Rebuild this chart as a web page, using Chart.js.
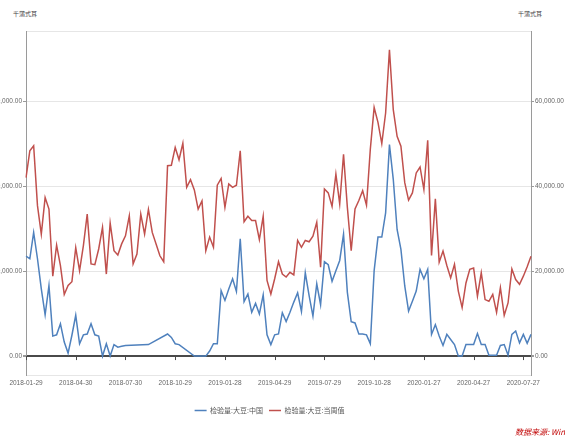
<!DOCTYPE html>
<html lang="zh">
<head>
<meta charset="UTF-8">
<title>检验量:大豆</title>
<script src="https://cdn.jsdelivr.net/npm/chart.js"></script>
<style>
    body {
        margin: 0;
        width: 565px;
        height: 439px;
        overflow: hidden;
        position: relative;
        background: #fff;
        font-family: "Noto Sans CJK SC", "Liberation Sans", sans-serif;
    }
    .unit {
        position: absolute;
        top: 9px;
        font-size: 6px;
        color: #444;
    }
    #box {
        position: absolute;
        left: -26px;
        top: 0;
        width: 591px;
        height: 439px;
    }
    .src {
        position: absolute;
        left: 515px;
        top: 426px;
        font-size: 8px;
        font-style: italic;
        color: #c00000;
        white-space: nowrap;
    }
</style>
</head>
<body>
<div class="unit" style="left:13px">千蒲式耳</div>
<div class="unit" style="left:518px">千蒲式耳</div>
<div id="box"><canvas id="c"></canvas></div>
<div class="src">数据来源: Wind</div>

<script>
// weekly, starting 2018-01-29
const startDate = '2018-01-29';
const weekCount = 133;
const tickLabels = ['2018-01-29', '2018-04-30', '2018-07-30', '2018-10-29', '2019-01-28', '2019-04-29',
                    '2019-07-29', '2019-10-28', '2020-01-27', '2020-04-27', '2020-07-27'];
const yTicks = [0, 20000, 40000, 60000];
const seriesNames = ['检验量:大豆:中国', '检验量:大豆:当周值'];

// 检验量:大豆:中国 (null = no data that week)
const chinaVals = [
    23500, 22900, 29100, 22900, 15800, 9700, 16600, 4700, 5000, 7600,
    3300, 700, 4900, 9600, 2900, 5000, 5200, 7600, 5000, 4700,
    0, 2900, 0, 2700, 2100, 2300, 2500, null, null, null,
    null, null, 2700, null, null, null, null, 5200, 4400, 2900,
    2700, null, null, null, 0, 0, 0, 0, 1200, 2900,
    2900, 15400, 13100, 15800, 18200, 15200, 27600, 12800, 14600, 10300,
    12400, 9900, 14400, 5000, 2700, 5000, 5200, 10200, 8100, 10300,
    12700, 14900, 10500, 19600, 14200, 9400, 17000, 12100, 22200, 21500,
    17600, 20100, 22500, 28700, 15000, 8100, 7800, 5200, 5200, 5000,
    2900, 20100, 28000, 28000, 33700, 49800, 41600, 29800, 25100, 16500,
    10600, 12900, 15300, 20400, 18200, 20400, 5100, 7400, 4700, 2500,
    5100, 3900, 2700, 0, 0, 2700, 2700, 2700, 5300, 2700,
    2700, 200, 200, 200, 2500, 2700, 200, 5100, 5900, 3100,
    5100, 3000, 5100
];

// 检验量:大豆:当周值
const totalVals = [
    42000, 48300, 49500, 35400, 28700, 37300, 34600, 18800, 26100, 21300,
    14500, 16600, 17500, 25500, 20100, 26000, 33400, 21700, 21500, 25200,
    30300, 19300, 31300, 24800, 23800, 26400, 28300, 33000, 21700, 24000,
    33400, 28700, 34500, 29100, 26400, 23600, 22200, 44800, 44900, 49100,
    46200, 50100, 39700, 41500, 39100, 34600, 36500, 24800, 28000, 25600,
    40200, 41800, 35000, 40500, 39700, 40200, 48300, 31600, 32900, 31900,
    31900, 27400, 32900, 17800, 14600, 18200, 22200, 19300, 18600, 19700,
    19100, 27200, 25600, 27200, 26900, 28200, 31500, 20900, 39300, 38400,
    35200, 42800, 35800, 47500, 35000, 24800, 34600, 36600, 38900, 35500,
    48700, 58500, 55000, 50000, 57200, 72100, 58000, 51700, 49400, 40800,
    36700, 38400, 43100, 44500, 39200, 50800, 23700, 37000, 22100, 24700,
    21300, 18400, 21600, 15300, 11400, 17200, 20400, 20700, 14100, 19600,
    13300, 12900, 14500, 10300, 16100, 9600, 12500, 20500, 18000, 16900,
    18800, 21000, 23500
];

// build the weekly date labels
const dates = [];
const d0 = new Date(startDate + 'T00:00:00Z');
for (let i = 0; i < weekCount; i++) {
    const d = new Date(d0.getTime() + i * 7 * 86400000);
    dates.push(d.toISOString().slice(0, 10));
}

const yMin = -4500, yMax = 76500;
const fmt = v => v.toLocaleString('en-US', { minimumFractionDigits: 2, maximumFractionDigits: 2 });
const axisFont = { family: '"Liberation Sans", Arial, sans-serif', size: 6.5 };

function yAxis(side, width) {
    return {
        type: 'linear',
        position: side,
        min: yMin,
        max: yMax,
        afterBuildTicks: s => { s.ticks = [yMin].concat(yTicks, [yMax]).map(v => ({ value: v })); },
        afterFit: s => { s.width = width; },
        border: { color: '#9a9a9a', width: 1 },
        grid: {
            drawOnChartArea: side === 'left',
            color: c => c.tick && c.tick.value === 0 ? '#4a4a4a' : '#e6e6e6',
            lineWidth: c => c.tick && c.tick.value === 0 ? 2 : 1,
            tickColor: c => c.tick && yTicks.includes(c.tick.value) ? '#9a9a9a' : 'rgba(0,0,0,0)',
            tickLength: 3
        },
        ticks: {
            padding: 1,
            color: '#666',
            font: axisFont,
            callback: v => yTicks.includes(v) ? fmt(v) : ''
        }
    };
}

// little tick marks on the zero line
const zeroTicks = {
    id: 'zeroTicks',
    afterDatasetsDraw(chart) {
        const x = chart.scales.x, y = chart.scales.y;
        const y0 = y.getPixelForValue(0);
        const ctx = chart.ctx;
        ctx.save();
        ctx.strokeStyle = '#4a4a4a';
        ctx.lineWidth = 1;
        ctx.beginPath();
        dates.forEach((d, i) => {
            if (tickLabels.includes(d)) {
                const px = Math.round(x.getPixelForValue(i)) + 0.5;
                ctx.moveTo(px, y0);
                ctx.lineTo(px, y0 + 4);
            }
        });
        ctx.stroke();
        ctx.restore();
    }
};

new Chart(document.getElementById('c'), {
    type: 'line',
    data: {
        labels: dates,
        datasets: [{
            label: seriesNames[0],
            data: chinaVals,
            borderColor: '#4f81bd',
            backgroundColor: '#4f81bd',
            borderWidth: 1.5,
            pointRadius: 0,
            tension: 0,
            spanGaps: true,
            yAxisID: 'y'
        }, {
            label: seriesNames[1],
            data: totalVals,
            borderColor: '#c0504d',
            backgroundColor: '#c0504d',
            borderWidth: 1.5,
            pointRadius: 0,
            tension: 0,
            spanGaps: true,
            yAxisID: 'y1'
        }]
    },
    options: {
        responsive: true,
        maintainAspectRatio: false,
        animation: false,
        layout: { padding: { top: 31, right: 0, bottom: 15, left: 0 } },
        scales: {
            x: {
                offset: false,
                grid: { display: false, drawTicks: false },
                border: { display: false },
                afterFit: s => { s.height += 10; },
                ticks: {
                    autoSkip: false,
                    maxRotation: 0,
                    padding: 4,
                    color: '#666',
                    font: axisFont,
                    callback: function (v, i) { return tickLabels.includes(dates[i]) ? dates[i] : null; }
                }
            },
            y: yAxis('left', 52),
            y1: yAxis('right', 34)
        },
        plugins: {
            legend: {
                position: 'bottom',
                labels: {
                    usePointStyle: true,
                    pointStyle: 'line',
                    pointStyleWidth: 12,
                    padding: 6,
                    color: '#555',
                    font: { family: '"Noto Sans CJK SC", sans-serif', size: 7 }
                }
            },
            tooltip: { enabled: false }
        }
    },
    plugins: [zeroTicks]
});
</script>
</body>
</html>
